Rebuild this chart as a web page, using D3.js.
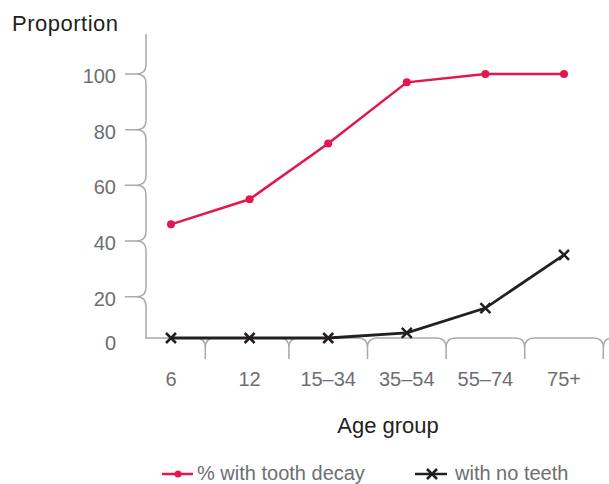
<!DOCTYPE html>
<html lang="en">
<head>
<meta charset="utf-8">
<title>Tooth decay by age group</title>
<script src="https://d3js.org/d3.v7.min.js"></script>
<style>
  body { margin: 0; background: #ffffff; }
  text { font-family: "Liberation Sans", Arial, Helvetica, sans-serif; }
</style>
</head>
<body>
<div id="my_dataviz"></div>

<script>
// data
var ageGroups = ["6", "12", "15\u201334", "35\u201354", "55\u201374", "75+"]
var toothDecay = [46, 55, 75, 97, 100, 100]
var noTeeth = [0, 0, 0, 2.5, 14.5, 35]
var yTicks = [0, 20, 40, 60, 80, 100]

var width = 609
var height = 484

var red = "#e3174d"
var dark = "#231f20"
var grey = "#6d6e71"
var axisGrey = "#a7a9ac"

var svg = d3.select("#my_dataviz")
  .append("svg")
    .attr("width", width)
    .attr("height", height)

// x: one point per age group
var x = d3.scalePoint()
  .domain(ageGroups)
  .range([171, 564])

// y: bottom step (0-20) is squeezed in the original
var y = d3.scaleLinear()
  .domain([0, 20, 100])
  .range([338, 296.7, 74])

var axisLeft = 146
var r = 9.5

// y axis with curly cusps at every tick
var yp = d3.path()
yp.moveTo(axisLeft, 34)
yTicks.slice(1).reverse().forEach(function(v){
  var t = y(v)
  yp.lineTo(axisLeft, t - r)
  yp.quadraticCurveTo(axisLeft, t, axisLeft - r, t)
  yp.lineTo(125, t)
  yp.moveTo(axisLeft - r, t)
  yp.quadraticCurveTo(axisLeft, t, axisLeft, t + r)
})
yp.lineTo(axisLeft, y(0))

// x axis with cusps between the groups
var step = x.step()
var base = y(0)
yp.lineTo(axisLeft, base)
ageGroups.forEach(function(g, i){
  var b = x(g) + step / 2 - (i === 0 ? 5 : 0)
  yp.lineTo(b - r, base)
  yp.quadraticCurveTo(b, base, b, base + r)
  yp.lineTo(b, base + 21)
  yp.moveTo(b, base + r)
  yp.quadraticCurveTo(b, base, b + r, base)
})

svg.append("path")
  .attr("d", yp.toString())
  .attr("fill", "none")
  .attr("stroke", axisGrey)
  .attr("stroke-width", 1.5)

// tick labels
svg.append("g")
  .selectAll("text")
  .data(yTicks)
  .enter()
  .append("text")
    .attr("x", 116)
    .attr("y", function(d){ return y(d) + (d === 0 ? 12 : 9) })
    .attr("text-anchor", "end")
    .attr("font-size", 20)
    .attr("fill", grey)
    .text(function(d){ return d })

svg.append("g")
  .selectAll("text")
  .data(ageGroups)
  .enter()
  .append("text")
    .attr("x", function(d){ return x(d) })
    .attr("y", 386)
    .attr("text-anchor", "middle")
    .attr("font-size", 20)
    .attr("fill", grey)
    .text(function(d){ return d })

// axis titles
svg.append("text")
  .attr("x", 12)
  .attr("y", 31)
  .attr("font-size", 22)
  .attr("letter-spacing", 0.5)
  .attr("fill", dark)
  .text("Proportion")

svg.append("text")
  .attr("x", 388)
  .attr("y", 433)
  .attr("text-anchor", "middle")
  .attr("font-size", 22)
  .attr("fill", dark)
  .text("Age group")

// lines
var line = d3.line()
  .x(function(d, i){ return x(ageGroups[i]) })
  .y(function(d){ return y(d) })

svg.append("path")
  .attr("d", line(toothDecay))
  .attr("fill", "none")
  .attr("stroke", red)
  .attr("stroke-width", 2.5)

svg.append("g")
  .selectAll("circle")
  .data(toothDecay)
  .enter()
  .append("circle")
    .attr("cx", function(d, i){ return x(ageGroups[i]) })
    .attr("cy", function(d){ return y(d) })
    .attr("r", 4)
    .attr("fill", red)

svg.append("path")
  .attr("d", line(noTeeth))
  .attr("fill", "none")
  .attr("stroke", dark)
  .attr("stroke-width", 2.8)

var cross = function(cx, cy, s){
  return "M" + (cx - s) + "," + (cy - s) + "L" + (cx + s) + "," + (cy + s) +
         "M" + (cx - s) + "," + (cy + s) + "L" + (cx + s) + "," + (cy - s)
}

svg.append("g")
  .selectAll("path")
  .data(noTeeth)
  .enter()
  .append("path")
    .attr("d", function(d, i){ return cross(x(ageGroups[i]), y(d), 5) })
    .attr("stroke", dark)
    .attr("stroke-width", 2.5)

// legend
var legY = 474
var leg = svg.append("g")

leg.append("line")
  .attr("x1", 162).attr("x2", 193)
  .attr("y1", legY).attr("y2", legY)
  .attr("stroke", red)
  .attr("stroke-width", 2.5)
leg.append("circle")
  .attr("cx", 178).attr("cy", legY)
  .attr("r", 3.5)
  .attr("fill", red)
leg.append("text")
  .attr("x", 197).attr("y", legY + 6)
  .attr("font-size", 20)
  .attr("fill", grey)
  .text("% with tooth decay")

leg.append("line")
  .attr("x1", 415).attr("x2", 447)
  .attr("y1", legY).attr("y2", legY)
  .attr("stroke", dark)
  .attr("stroke-width", 2.5)
leg.append("path")
  .attr("d", cross(432, legY, 5))
  .attr("stroke", dark)
  .attr("stroke-width", 2.5)
leg.append("text")
  .attr("x", 455).attr("y", legY + 6)
  .attr("font-size", 20)
  .attr("fill", grey)
  .text("with no teeth")
</script>
</body>
</html>
